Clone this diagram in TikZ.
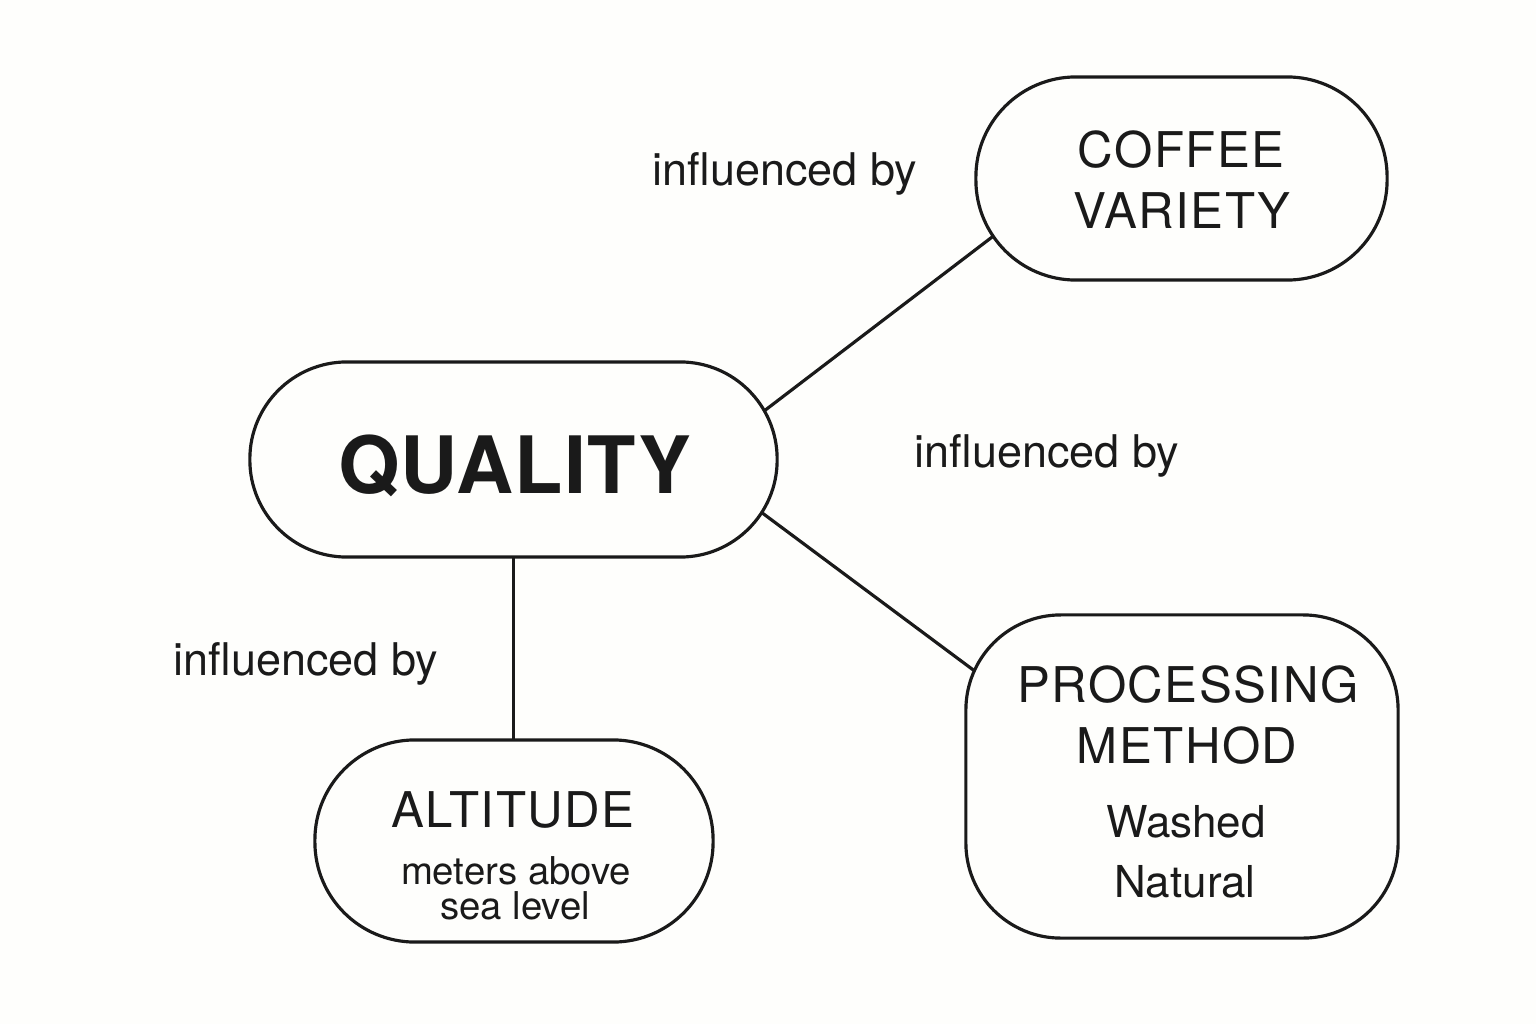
\documentclass[tikz,border=0pt]{standalone}
\usepackage{fontspec}
\setmainfont{TeX Gyre Heros}
\newfontfamily\capsfont[LetterSpace=3]{TeX Gyre Heros}
\newfontfamily\bigfont[LetterSpace=1.5]{TeX Gyre Heros}
\usetikzlibrary{backgrounds}
\definecolor{bg}{RGB}{254,254,252}
\definecolor{ink}{RGB}{26,26,26}
\begin{document}
\begin{tikzpicture}[x=0.01cm,y=-0.01cm,
  box/.style={draw=ink, line width=0.9pt, fill=bg, inner sep=0pt, outer sep=0pt},
  txt/.style={text=ink, inner sep=0pt, anchor=base},
  bigtxt/.style={txt, font=\bigfont\bfseries\fontsize{22.5}{26}\selectfont},
  captxt/.style={txt, font=\capsfont\fontsize{14}{16}\selectfont},
  subtxt/.style={txt, font=\fontsize{12.5}{15}\selectfont},
  smalltxt/.style={txt, font=\fontsize{10.9}{13}\selectfont},
  labtxt/.style={txt, font=\fontsize{12.8}{15}\selectfont},
  link/.style={draw=ink, line width=0.9pt}]
\useasboundingbox (0,0) rectangle (1536,1024);

% boxes
\node[box, minimum width=5.27cm, minimum height=1.95cm, rounded corners=0.97cm] (q) at (513.5,459.5) {};
\node[box, minimum width=4.11cm, minimum height=2.03cm, rounded corners=1.0cm] (cv) at (1181.5,178.5) {};
\node[box, minimum width=3.98cm, minimum height=2.02cm, rounded corners=1.0cm] (alt) at (514,841) {};
\node[box, minimum width=4.32cm, minimum height=3.23cm, rounded corners=0.95cm] (pm) at (1182,776.5) {};

% texts
\node[bigtxt] (tq) at (514.5,493) {QUALITY};
\node[captxt] (tcv1) at (1181,167) {COFFEE};
\node[captxt] (tcv2) at (1182,228) {VARIETY};
\node[captxt] (talt) at (513,827) {ALTITUDE};
\node[smalltxt] (talt1) at (516,884) {meters above};
\node[smalltxt] (talt2) at (515,919) {sea level};
\node[captxt] (tpm1) at (1188,702) {PROCESSING};
\node[captxt] (tpm2) at (1187,763) {METHOD};
\node[subtxt] (tpm3) at (1186,837) {Washed};
\node[subtxt] (tpm4) at (1185,897) {Natural};

% connector labels
\node[labtxt] (l1) at (785,185) {influenced by};
\node[labtxt] (l2) at (1047,467) {influenced by};
\node[labtxt] (l3) at (306,675) {influenced by};

\begin{pgfonlayer}{background}
\fill[bg] (0,0) rectangle (1536,1024);
\draw[link] ([shift={(127,45.8)}]q.center) -- ([shift={(-81.5,-23.8)}]cv.center);
\draw[link] ([shift={(126.5,-37.5)}]q.center) -- ([shift={(-122,-42)}]pm.center);
\draw[link] (q.south) -- (q.south |- alt.north);
\end{pgfonlayer}
\end{tikzpicture}
\end{document}
